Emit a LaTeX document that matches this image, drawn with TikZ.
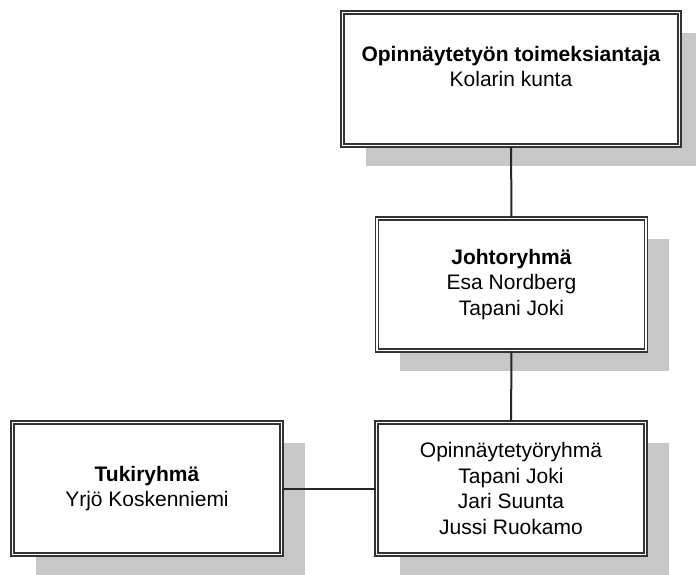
\documentclass[tikz,border=0pt]{standalone}
\usepackage{fontspec}
\setmainfont{Liberation Sans}
\usetikzlibrary{shadows}

\tikzset{
  orgbox/.style={draw=black!80, line width=1.6pt, double=white, double distance=1.4pt,
    fill=white, general shadow={fill=black!22, shadow xshift=23pt, shadow yshift=-20pt},
    minimum width=269pt, minimum height=132pt, inner sep=0pt, align=center,
    font=\fontsize{21}{25.5}\selectfont},
  orgline/.style={draw=black!85, line width=2pt}
}

\begin{document}
\begin{tikzpicture}[x=1pt,y=-1pt]
\useasboundingbox (0,0) rectangle (696,574);

\node[orgbox, minimum width=337pt, minimum height=133pt] (toimeksiantaja) at (511,79)
  {\textbf{Opinnäytetyön toimeksiantaja}\\ Kolarin kunta\\ ~};
\node[orgbox] (johto) at (511.5,284.5) {\textbf{Johtoryhmä}\\ Esa Nordberg\\ Tapani Joki};
\node[orgbox] (tyoryhma) at (511,488.5) {Opinnäytetyöryhmä\\ Tapani Joki\\ Jari Suunta\\ Jussi Ruokamo};
\node[orgbox] (tuki) at (147,488.5) {\textbf{Tukiryhmä}\\ Yrjö Koskenniemi};

\draw[orgline] (toimeksiantaja) -- (johto);
\draw[orgline] (johto) -- (tyoryhma);
\draw[orgline] (tuki) -- (tyoryhma);
\end{tikzpicture}
\end{document}
